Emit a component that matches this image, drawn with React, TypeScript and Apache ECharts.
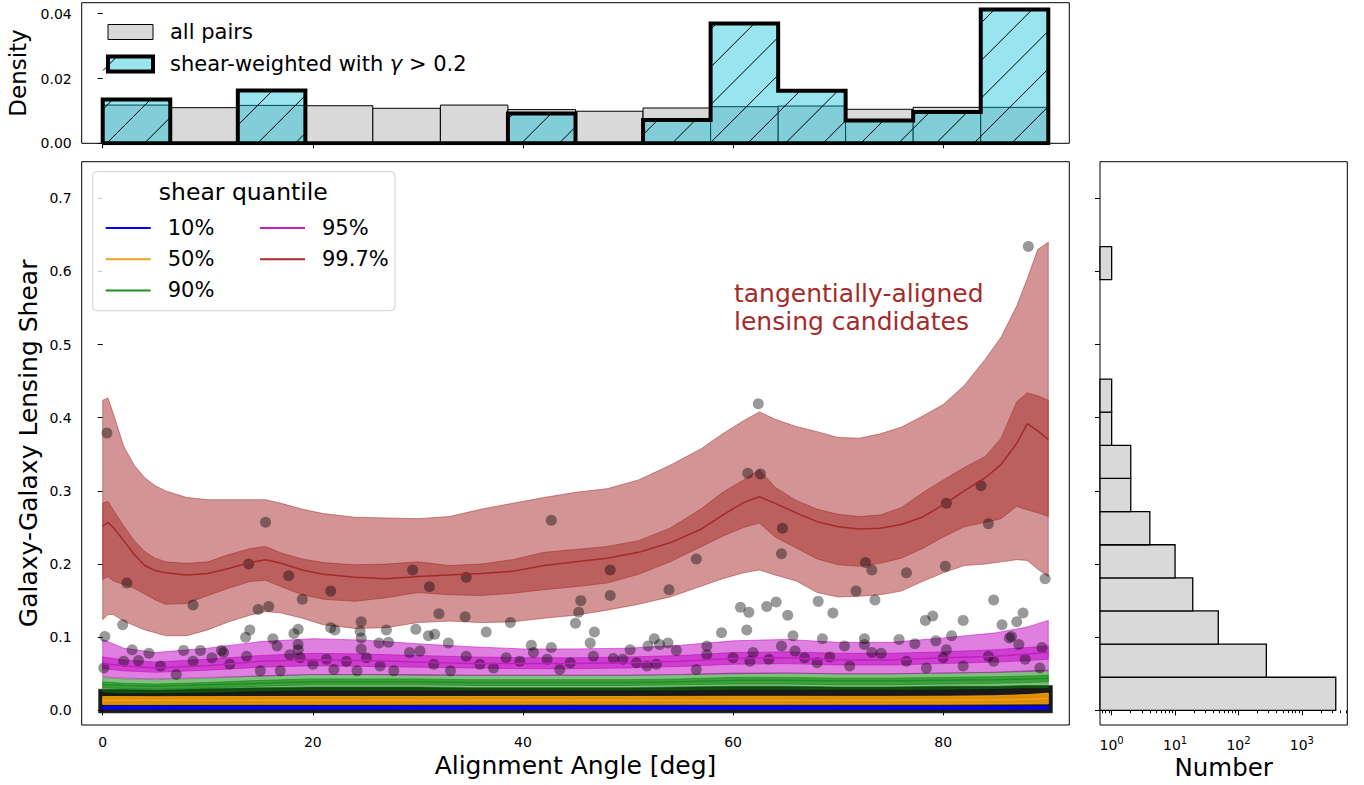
import React, { useEffect, useRef } from "react";
import * as echarts from "echarts";

const FONT = "DejaVu Sans";

// ---------------- Top histogram (alignment angle) ----------------
const ANGLE_BIN_EDGES = [0, 6.43, 12.86, 19.29, 25.71, 32.14, 38.57, 45.0, 51.43, 57.86, 64.29, 70.71, 77.14, 83.57, 90.0];
const ALL_PAIRS_DENSITY = [0.0118, 0.011, 0.0117, 0.0116, 0.0108, 0.0118, 0.0104, 0.0099, 0.0109, 0.0113, 0.0115, 0.0105, 0.0111, 0.0111];
const SHEAR_WEIGHTED_DENSITY = [0.0135, 0, 0.0163, 0, 0, 0, 0.0092, 0, 0.0072, 0.037, 0.0162, 0.007, 0.0097, 0.0413];
const DENSITY_TICKS = [0, 0.02, 0.04];
const SW_NAME = "shear-weighted with γ > 0.2";

// ---------------- Right histogram (shear counts) ----------------
const SHEAR_BIN_EDGES = [0, 0.0453, 0.0906, 0.1359, 0.1811, 0.2264, 0.2717, 0.317, 0.3623, 0.4076, 0.4529, 0.4981, 0.5434, 0.5887, 0.634];
const SHEAR_BIN_COUNTS = [3420, 275, 48, 19, 10, 4, 2, 2, 1, 1, 0, 0, 0, 1];
const NUMBER_TICKS = [1, 10, 100, 1000];
const NUMBER_MINOR_TICKS = [0.7, 0.8, 0.9, 2, 3, 4, 5, 6, 7, 8, 9, 20, 30, 40, 50, 60, 70, 80, 90, 200, 300, 400, 500, 600, 700, 800, 900, 2000, 3000, 4000, 5000];
const NUMBER_MIN = 0.655;
const NUMBER_MAX = 5200;

// ---------------- Main panel ----------------
const X_TICKS = [0, 20, 40, 60, 80];
const Y_TICKS = [0, 0.1, 0.2, 0.3, 0.4, 0.5, 0.6, 0.7];

// 99.7% quantile (fine grid)
const X_FINE = [0, 0.5, 1, 2, 3, 4, 5, 6, 8, 10, 12, 14, 15.5, 17, 19, 21, 24, 27, 30, 33, 36, 39, 42, 45, 48, 51, 54, 57, 59, 61, 62.5, 64, 66, 68, 70, 72, 74, 76, 78, 80, 82, 84, 85.5, 87, 88, 89, 90];
const RED_OUTER_HI = [0.424, 0.427, 0.406, 0.361, 0.335, 0.318, 0.307, 0.3, 0.291, 0.288, 0.288, 0.288, 0.288, 0.283, 0.275, 0.269, 0.264, 0.263, 0.262, 0.265, 0.275, 0.283, 0.291, 0.298, 0.303, 0.315, 0.335, 0.358, 0.378, 0.396, 0.408, 0.398, 0.388, 0.381, 0.373, 0.372, 0.378, 0.387, 0.402, 0.418, 0.444, 0.48, 0.51, 0.553, 0.59, 0.63, 0.64];
const RED_INNER_HI = [0.283, 0.286, 0.274, 0.252, 0.232, 0.217, 0.208, 0.203, 0.201, 0.203, 0.213, 0.221, 0.224, 0.215, 0.207, 0.202, 0.199, 0.2, 0.203, 0.198, 0.2, 0.206, 0.216, 0.22, 0.224, 0.232, 0.249, 0.276, 0.298, 0.315, 0.329, 0.305, 0.287, 0.275, 0.268, 0.265, 0.267, 0.277, 0.297, 0.315, 0.332, 0.347, 0.372, 0.422, 0.434, 0.43, 0.424];
const RED_MED = [0.252, 0.257, 0.25, 0.232, 0.213, 0.198, 0.191, 0.188, 0.185, 0.187, 0.194, 0.202, 0.206, 0.201, 0.192, 0.186, 0.182, 0.18, 0.183, 0.185, 0.187, 0.19, 0.198, 0.203, 0.208, 0.216, 0.229, 0.248, 0.267, 0.284, 0.292, 0.283, 0.27, 0.258, 0.251, 0.248, 0.249, 0.254, 0.264, 0.281, 0.3, 0.318, 0.336, 0.365, 0.392, 0.382, 0.37];
const RED_INNER_LO = [0.179, 0.183, 0.177, 0.172, 0.167, 0.159, 0.151, 0.145, 0.146, 0.157, 0.167, 0.176, 0.178, 0.169, 0.158, 0.152, 0.149, 0.154, 0.161, 0.158, 0.157, 0.16, 0.165, 0.169, 0.174, 0.186, 0.203, 0.224, 0.238, 0.25, 0.256, 0.237, 0.222, 0.207, 0.199, 0.197, 0.201, 0.208, 0.221, 0.237, 0.251, 0.257, 0.262, 0.279, 0.274, 0.27, 0.265];
const RED_OUTER_LO = [0.124, 0.131, 0.131, 0.122, 0.116, 0.11, 0.106, 0.102, 0.102, 0.11, 0.121, 0.13, 0.135, 0.133, 0.126, 0.117, 0.112, 0.113, 0.12, 0.122, 0.12, 0.121, 0.126, 0.13, 0.137, 0.145, 0.155, 0.17, 0.18, 0.188, 0.192, 0.185, 0.177, 0.161, 0.155, 0.156, 0.158, 0.163, 0.176, 0.188, 0.198, 0.2, 0.203, 0.206, 0.205, 0.193, 0.183];

// lower quantiles (coarse grid)
const X_COARSE = [0, 2, 5, 10, 15, 20, 25, 30, 35, 40, 45, 50, 55, 60, 65, 70, 75, 80, 85, 88, 90];
const MAG_OUTER_HI = [0.097, 0.085, 0.079, 0.085, 0.094, 0.098, 0.096, 0.091, 0.087, 0.084, 0.084, 0.085, 0.089, 0.095, 0.097, 0.093, 0.093, 0.099, 0.106, 0.114, 0.123];
const MAG_INNER_HI = [0.073, 0.069, 0.066, 0.07, 0.075, 0.078, 0.077, 0.075, 0.073, 0.072, 0.072, 0.073, 0.075, 0.079, 0.08, 0.078, 0.078, 0.08, 0.083, 0.086, 0.088];
const MAG_MED = [0.064, 0.061, 0.058, 0.061, 0.067, 0.069, 0.068, 0.066, 0.064, 0.064, 0.064, 0.065, 0.067, 0.071, 0.072, 0.069, 0.069, 0.072, 0.074, 0.077, 0.079];
const MAG_INNER_LO = [0.057, 0.054, 0.052, 0.055, 0.059, 0.061, 0.06, 0.059, 0.058, 0.057, 0.057, 0.058, 0.06, 0.063, 0.064, 0.062, 0.062, 0.064, 0.066, 0.068, 0.07];
const MAG_OUTER_LO = [0.046, 0.044, 0.043, 0.045, 0.047, 0.049, 0.049, 0.048, 0.048, 0.048, 0.048, 0.048, 0.049, 0.05, 0.051, 0.05, 0.05, 0.051, 0.052, 0.053, 0.054];

const GRN_OUTER_HI = [0.045, 0.043, 0.042, 0.044, 0.047, 0.049, 0.049, 0.049, 0.048, 0.048, 0.048, 0.048, 0.049, 0.051, 0.051, 0.05, 0.05, 0.051, 0.052, 0.054, 0.055];
const GRN_INNER_HI = [0.039, 0.037, 0.036, 0.038, 0.041, 0.043, 0.043, 0.043, 0.042, 0.042, 0.042, 0.042, 0.043, 0.045, 0.045, 0.044, 0.044, 0.045, 0.046, 0.047, 0.048];
const GRN_MED = [0.035, 0.034, 0.033, 0.035, 0.037, 0.039, 0.039, 0.039, 0.038, 0.038, 0.038, 0.038, 0.039, 0.041, 0.041, 0.04, 0.04, 0.041, 0.042, 0.043, 0.044];
const GRN_INNER_LO = [0.031, 0.03, 0.029, 0.031, 0.033, 0.035, 0.035, 0.035, 0.034, 0.034, 0.034, 0.034, 0.035, 0.036, 0.036, 0.035, 0.035, 0.036, 0.037, 0.038, 0.039];
const GRN_OUTER_LO = [0.025, 0.024, 0.024, 0.025, 0.027, 0.028, 0.028, 0.028, 0.028, 0.028, 0.028, 0.028, 0.028, 0.029, 0.029, 0.029, 0.029, 0.029, 0.03, 0.031, 0.031];

const ORG_OUTER_HI = [0.0188, 0.0188, 0.0187, 0.0188, 0.0189, 0.019, 0.019, 0.019, 0.019, 0.019, 0.019, 0.019, 0.0191, 0.0192, 0.0192, 0.0191, 0.0191, 0.0193, 0.02, 0.0215, 0.0235];
const ORG_MED = [0.0137, 0.0137, 0.0137, 0.0138, 0.0138, 0.0139, 0.0139, 0.0139, 0.0139, 0.0139, 0.0139, 0.0139, 0.014, 0.014, 0.014, 0.014, 0.014, 0.0141, 0.0145, 0.0152, 0.0162];
const ORG_OUTER_LO = [0.0082, 0.0082, 0.0082, 0.0083, 0.0083, 0.0083, 0.0083, 0.0084, 0.0084, 0.0084, 0.0084, 0.0084, 0.0084, 0.0084, 0.0084, 0.0084, 0.0084, 0.0085, 0.0086, 0.0088, 0.009];

const BLU_OUTER_HI = [0.0057, 0.0057, 0.0057, 0.0057, 0.0057, 0.0057, 0.0057, 0.0057, 0.0057, 0.0057, 0.0057, 0.0057, 0.0057, 0.0057, 0.0057, 0.0057, 0.0057, 0.0057, 0.0058, 0.0058, 0.0059];
const BLU_MED = [0.0037, 0.0037, 0.0037, 0.0037, 0.0037, 0.0037, 0.0037, 0.0037, 0.0037, 0.0037, 0.0037, 0.0037, 0.0037, 0.0037, 0.0037, 0.0037, 0.0037, 0.0037, 0.0038, 0.0038, 0.0038];
const BLU_OUTER_LO = [0.0017, 0.0017, 0.0017, 0.0017, 0.0017, 0.0017, 0.0017, 0.0017, 0.0017, 0.0017, 0.0017, 0.0017, 0.0017, 0.0017, 0.0017, 0.0017, 0.0017, 0.0017, 0.0017, 0.0017, 0.0017];

// dense core of the scatter (thousands of overlapping points near zero)
const DENSE_X = [-0.4, 2, 5, 10, 15, 20, 25, 30, 35, 40, 45, 50, 55, 60, 65, 70, 75, 80, 85, 88, 90.4];
const DENSE_HI = [0.029, 0.029, 0.028, 0.03, 0.031, 0.032, 0.032, 0.032, 0.031, 0.031, 0.031, 0.031, 0.032, 0.033, 0.033, 0.032, 0.032, 0.033, 0.033, 0.034, 0.034];
const DENSE_LO = [-0.0035, -0.0035, -0.0035, -0.0035, -0.0035, -0.0035, -0.0035, -0.0035, -0.0035, -0.0035, -0.0035, -0.0035, -0.0035, -0.0035, -0.0035, -0.0035, -0.0035, -0.0035, -0.0035, -0.0035, -0.0035];

// individual pairs above the dense core
const PAIRS = [
  [0.4, 0.379], [62.4, 0.419], [88.1, 0.634], [42.7, 0.26], [15.5, 0.257],
  [83.6, 0.307], [80.3, 0.283], [61.4, 0.324], [62.6, 0.323], [64.7, 0.249], [64.6, 0.214], [56.5, 0.207],
  [48.3, 0.192], [48.3, 0.157], [45.5, 0.15], [45.3, 0.134], [45.0, 0.119], [46.8, 0.107], [53.9, 0.165],
  [72.6, 0.202], [73.2, 0.192], [76.5, 0.188], [80.2, 0.197], [84.3, 0.255], [89.7, 0.18], [71.7, 0.163],
  [73.5, 0.151], [68.1, 0.149], [69.5, 0.133], [60.7, 0.141], [61.5, 0.134], [63.2, 0.142], [64.1, 0.148],
  [65.2, 0.13], [84.8, 0.151], [78.3, 0.123], [79.0, 0.129], [81.9, 0.123], [85.6, 0.117], [87.0, 0.121],
  [87.6, 0.133], [58.9, 0.106], [61.3, 0.11], [80.8, 0.102],
  [13.9, 0.2], [2.3, 0.174], [17.7, 0.184], [21.7, 0.163], [29.5, 0.192], [31.1, 0.169], [34.6, 0.182],
  [8.6, 0.144], [14.8, 0.138], [15.8, 0.142], [19.0, 0.152], [24.6, 0.121], [32.0, 0.132], [34.5, 0.128], [38.8, 0.12],
  [1.9, 0.117], [0.2, 0.101], [14.0, 0.11], [13.6, 0.1], [18.6, 0.111], [18.2, 0.105], [21.7, 0.113], [22.1, 0.11],
  [24.5, 0.108], [24.6, 0.099], [27.0, 0.11], [29.8, 0.111], [31.0, 0.102], [31.6, 0.104], [36.5, 0.107],
  [32.9, 0.092], [40.8, 0.089], [42.7, 0.086],
  [2.8, 0.083], [4.4, 0.078], [7.7, 0.082], [9.3, 0.082], [11.3, 0.082], [16.2, 0.098], [18.6, 0.09], [18.6, 0.083],
  [24.6, 0.084], [26.3, 0.092], [27.2, 0.093],
  [2.0, 0.067], [3.4, 0.068], [5.5, 0.0605], [7.0, 0.049], [8.6, 0.067], [10.4, 0.072], [11.5, 0.079], [12.1, 0.063],
  [13.7, 0.074], [15.0, 0.054], [16.6, 0.088], [16.9, 0.054], [17.8, 0.076], [18.8, 0.072], [20.0, 0.063], [21.3, 0.07],
  [22.0, 0.056], [23.2, 0.067], [24.2, 0.054], [25.1, 0.072], [26.4, 0.0605], [27.7, 0.054], [29.2, 0.079], [30.2, 0.081],
  [31.5, 0.063], [33.1, 0.054], [34.6, 0.074], [35.9, 0.063], [37.2, 0.058], [38.4, 0.072], [39.7, 0.067], [41.0, 0.079],
  [42.3, 0.07], [43.5, 0.056], [44.5, 0.065],
  [65.7, 0.102], [68.5, 0.098], [75.8, 0.097], [77.3, 0.091], [79.3, 0.095], [72.5, 0.098], [70.6, 0.088], [46.4, 0.092],
  [52.5, 0.098], [51.9, 0.088], [53.0, 0.09], [53.8, 0.092], [57.5, 0.088], [86.5, 0.101],
  [50.2, 0.083], [54.6, 0.082], [57.5, 0.076], [61.9, 0.079], [64.6, 0.088], [65.9, 0.081], [72.5, 0.09], [73.2, 0.079],
  [74.1, 0.078], [80.3, 0.083], [84.3, 0.074], [86.3, 0.099], [87.2, 0.09], [89.4, 0.086],
  [46.7, 0.074], [48.6, 0.071], [49.5, 0.07], [50.8, 0.065], [51.8, 0.0605], [52.7, 0.063], [56.5, 0.056], [60.0, 0.072],
  [61.6, 0.067], [63.4, 0.07], [66.8, 0.072], [68.0, 0.065], [69.2, 0.073], [71.1, 0.0605], [76.5, 0.067], [78.4, 0.058],
  [80.0, 0.072], [81.9, 0.0605], [84.8, 0.067], [87.8, 0.07], [89.2, 0.058], [0.1, 0.058],
];

// ---------------- layout ----------------
const GRID_TOP = { left: 81.7, top: 2.7, width: 987.6, height: 140.6 };
const GRID_MAIN = { left: 81.7, top: 161.7, width: 987.6, height: 563.3 };
const GRID_SIDE = { left: 1100, top: 161.7, width: 247.3, height: 563.3 };
const HATCH_SPACING = 37.7;
const HATCH_PHASE = 250;

function hatchLines(x0: number, x1: number, yTop: number, yBot: number) {
  const out: any[] = [];
  const kStart = Math.ceil((x0 + yTop - HATCH_PHASE) / HATCH_SPACING);
  const kEnd = Math.floor((x1 + yBot - HATCH_PHASE) / HATCH_SPACING);
  for (let k = kStart; k <= kEnd; k++) {
    const c = HATCH_PHASE + k * HATCH_SPACING;
    const xa = Math.max(x0, c - yBot);
    const xb = Math.min(x1, c - yTop);
    if (xb > xa) {
      out.push({ type: "line", shape: { x1: xa, y1: c - xa, x2: xb, y2: c - xb }, style: { stroke: "#000", lineWidth: 1 } });
    }
  }
  return out;
}

function band(xs: number[], lo: number[], hi: number[], color: string, stroke?: string) {
  return {
    type: "custom",
    xAxisIndex: 1,
    yAxisIndex: 1,
    silent: true,
    data: xs.map((x, i) => [x, lo[i], hi[i]]),
    encode: { x: 0, y: [1, 2] },
    renderItem: (params: any, api: any) => {
      if (params.dataIndex !== 0) return null;
      const top = xs.map((x, i) => api.coord([x, hi[i]]));
      const bottom = xs.map((x, i) => api.coord([x, lo[i]])).reverse();
      return {
        type: "polygon",
        shape: { points: top.concat(bottom) },
        style: { fill: color, stroke: stroke || color, lineWidth: 1 },
      };
    },
  };
}

function medLine(name: string, xs: number[], ys: number[], color: string, width = 1.5) {
  return {
    type: "line",
    name,
    xAxisIndex: 1,
    yAxisIndex: 1,
    silent: true,
    data: xs.map((x, i) => [x, ys[i]]),
    showSymbol: false,
    symbol: "none",
    color,
    itemStyle: { color },
    lineStyle: { color, width },
    emphasis: { disabled: true },
  };
}

function tickStyle(values: number[], length = 5) {
  return { show: true, customValues: values, length, lineStyle: { color: "#000", width: 1 } };
}

function buildOption() {
  const stepPts: number[][] = [[ANGLE_BIN_EDGES[0], 0]];
  SHEAR_WEIGHTED_DENSITY.forEach((v, i) => {
    stepPts.push([ANGLE_BIN_EDGES[i], v], [ANGLE_BIN_EDGES[i + 1], v]);
  });
  stepPts.push([ANGLE_BIN_EDGES[ANGLE_BIN_EDGES.length - 1], 0], [ANGLE_BIN_EDGES[0], 0]);

  const legendText = {
    fontFamily: FONT,
    fontSize: 21,
    color: "#000",
    lineHeight: 22,
    rich: {
      s: { width: 12, fontSize: 21, lineHeight: 22 },
      g: { fontStyle: "italic", fontFamily: FONT, fontSize: 21, lineHeight: 22, color: "#000" },
    },
  };
  const legendFormatter = (name: string) =>
    name === SW_NAME ? "{s| }shear-weighted with {g|γ} > 0.2" : "{s| }" + name;

  const baseLabel = { color: "#000", fontFamily: FONT, fontSize: 14 };

  return {
    animation: false,
    backgroundColor: "#fff",
    textStyle: { fontFamily: FONT },
    grid: [
      { ...GRID_TOP, show: true, borderColor: "#000", borderWidth: 1, backgroundColor: "transparent", containLabel: false, outerBoundsMode: "none" },
      { ...GRID_MAIN, show: true, borderColor: "#000", borderWidth: 1, backgroundColor: "transparent", containLabel: false, outerBoundsMode: "none" },
      { ...GRID_SIDE, show: true, borderColor: "#000", borderWidth: 1, backgroundColor: "transparent", containLabel: false, outerBoundsMode: "none" },
      { ...GRID_SIDE, show: false, containLabel: false, outerBoundsMode: "none" },
    ],
    xAxis: [
      {
        gridIndex: 0, type: "value", min: -2, max: 92,
        axisLine: { show: false }, splitLine: { show: false },
        axisTick: tickStyle(X_TICKS), axisLabel: { show: false },
      },
      {
        gridIndex: 1, type: "value", min: -2, max: 92,
        axisLine: { show: false }, splitLine: { show: false },
        axisTick: tickStyle(X_TICKS),
        axisLabel: { ...baseLabel, customValues: X_TICKS, margin: 10, formatter: (v: number) => String(v) },
        name: "Alignment Angle [deg]", nameLocation: "middle", nameGap: 28, nameMoveOverlap: false,
        nameTextStyle: { fontFamily: FONT, fontSize: 25, color: "#000" },
      },
      {
        gridIndex: 2, type: "log", logBase: 10, min: NUMBER_MIN, max: NUMBER_MAX,
        axisLine: { show: false }, splitLine: { show: false },
        axisTick: tickStyle(NUMBER_TICKS),
        axisLabel: {
          ...baseLabel, customValues: NUMBER_TICKS, margin: 10, lineHeight: 20,
          formatter: (v: number) => "10{sup|" + Math.round(Math.log10(v)) + "}",
          rich: { sup: { fontSize: 10, lineHeight: 10, verticalAlign: "top", color: "#000", fontFamily: FONT } },
        },
        name: "Number", nameLocation: "middle", nameGap: 30, nameMoveOverlap: false,
        nameTextStyle: { fontFamily: FONT, fontSize: 24.5, color: "#000" },
      },
      {
        gridIndex: 3, type: "log", logBase: 10, min: NUMBER_MIN, max: NUMBER_MAX,
        axisLine: { show: false }, splitLine: { show: false },
        axisTick: tickStyle(NUMBER_MINOR_TICKS, 2.8), axisLabel: { show: false },
      },
    ],
    yAxis: [
      {
        gridIndex: 0, type: "value", min: 0, max: 0.0434,
        axisLine: { show: false }, splitLine: { show: false },
        axisTick: tickStyle(DENSITY_TICKS),
        axisLabel: { ...baseLabel, customValues: DENSITY_TICKS, margin: 10, formatter: (v: number) => v.toFixed(2) },
        name: "Density", nameLocation: "middle", nameGap: 52, nameMoveOverlap: false,
        nameTextStyle: { fontFamily: FONT, fontSize: 23, color: "#000" },
      },
      {
        gridIndex: 1, type: "value", min: -0.02, max: 0.75,
        axisLine: { show: false }, splitLine: { show: false },
        axisTick: tickStyle(Y_TICKS),
        axisLabel: { ...baseLabel, customValues: Y_TICKS, margin: 10, formatter: (v: number) => v.toFixed(1) },
        name: "Galaxy-Galaxy Lensing Shear", nameLocation: "middle", nameGap: 41, nameMoveOverlap: false,
        nameTextStyle: { fontFamily: FONT, fontSize: 25, color: "#000" },
      },
      {
        gridIndex: 2, type: "value", min: -0.02, max: 0.75,
        axisLine: { show: false }, splitLine: { show: false },
        axisTick: tickStyle(Y_TICKS), axisLabel: { show: false },
      },
      { gridIndex: 3, type: "value", min: -0.02, max: 0.75, show: false },
    ],
    legend: [
      {
        data: [
          { name: "all pairs", itemStyle: { color: "#d9d9d9", borderColor: "#000", borderWidth: 1 } },
          { name: SW_NAME, itemStyle: { color: "rgba(0,190,215,0.4)", borderColor: "#000", borderWidth: 4 } },
        ],
        left: 101, top: 16, orient: "vertical", icon: "rect",
        itemWidth: 45, itemHeight: 15, itemGap: 10, selectedMode: false,
        textStyle: legendText, formatter: legendFormatter,
      },
      {
        data: ["10%", "50%", "90%"],
        left: 100.7, top: 212, orient: "vertical", icon: "rect",
        itemWidth: 45, itemHeight: 2, itemGap: 9.2, selectedMode: false,
        textStyle: legendText, formatter: legendFormatter,
      },
      {
        data: ["95%", "99.7%"],
        left: 255, top: 212, orient: "vertical", icon: "rect",
        itemWidth: 45, itemHeight: 2, itemGap: 9.2, selectedMode: false,
        textStyle: legendText, formatter: legendFormatter,
      },
    ],
    graphic: [
      {
        type: "line", z: 6,
        shape: { x1: 103, y1: 70.5, x2: 116, y2: 57.5 },
        style: { stroke: "#000", lineWidth: 1 },
      },
      {
        type: "rect", z: 3,
        shape: { x: 92.7, y: 171.7, width: 302.3, height: 139, r: 4 },
        style: { fill: "rgba(255,255,255,0.8)", stroke: "#d0d0d0", lineWidth: 1 },
      },
      {
        type: "text", z: 4, x: 243.3, y: 191.7,
        style: { text: "shear quantile", fill: "#000", fontSize: 23.5, fontFamily: FONT, align: "center", verticalAlign: "middle" },
      },
      {
        type: "text", z: 4, left: 734, top: 279,
        style: { text: "tangentially-aligned\nlensing candidates", fill: "#a52a2a", fontSize: 25, fontFamily: FONT, lineHeight: 28.5 },
      },
    ],
    series: [
      // top histogram
      {
        type: "custom", name: "all pairs", xAxisIndex: 0, yAxisIndex: 0, silent: true,
        itemStyle: { color: "#d9d9d9", borderColor: "#000", borderWidth: 1 },
        data: ALL_PAIRS_DENSITY.map((v, i) => [ANGLE_BIN_EDGES[i], ANGLE_BIN_EDGES[i + 1], v]),
        encode: { x: [0, 1], y: 2 },
        renderItem: (params: any, api: any) => {
          const a = api.coord([api.value(0), 0]);
          const b = api.coord([api.value(1), api.value(2)]);
          return {
            type: "rect",
            shape: { x: a[0], y: b[1], width: b[0] - a[0], height: a[1] - b[1] },
            style: { fill: "#d9d9d9", stroke: "#000", lineWidth: 1 },
          };
        },
      },
      {
        type: "custom", name: SW_NAME, xAxisIndex: 0, yAxisIndex: 0, silent: true,
        itemStyle: { color: "rgba(0,190,215,0.4)", borderColor: "#000", borderWidth: 4 },
        data: SHEAR_WEIGHTED_DENSITY.map((v, i) => [ANGLE_BIN_EDGES[i], ANGLE_BIN_EDGES[i + 1], v]),
        encode: { x: [0, 1], y: 2 },
        renderItem: (params: any, api: any) => {
          if (!(api.value(2) > 0)) return null;
          const a = api.coord([api.value(0), 0]);
          const b = api.coord([api.value(1), api.value(2)]);
          return {
            type: "group",
            children: [
              {
                type: "rect",
                shape: { x: a[0], y: b[1], width: b[0] - a[0], height: a[1] - b[1] },
                style: { fill: "rgba(0,190,215,0.4)" },
              },
              ...hatchLines(a[0], b[0], b[1], a[1]),
            ],
          };
        },
      },
      {
        type: "line", xAxisIndex: 0, yAxisIndex: 0, silent: true, data: stepPts,
        showSymbol: false, symbol: "none", clip: true,
        lineStyle: { color: "#000", width: 4, join: "miter" },
        emphasis: { disabled: true },
      },
      // right histogram
      {
        type: "custom", xAxisIndex: 2, yAxisIndex: 2, silent: true,
        data: SHEAR_BIN_COUNTS.map((c, i) => [c, SHEAR_BIN_EDGES[i], SHEAR_BIN_EDGES[i + 1]]).filter((d) => d[0] > 0),
        encode: { x: 0, y: [1, 2] },
        renderItem: (params: any, api: any) => {
          const a = api.coord([NUMBER_MIN, api.value(1)]);
          const b = api.coord([api.value(0), api.value(2)]);
          return {
            type: "rect",
            shape: { x: a[0], y: b[1], width: b[0] - a[0], height: a[1] - b[1] },
            style: { fill: "#d9d9d9", stroke: "#000", lineWidth: 1.3 },
          };
        },
      },
      // main panel
      band(DENSE_X, DENSE_LO, DENSE_HI, "rgba(8,8,8,0.93)", "rgba(60,60,60,0.6)"),
      {
        type: "scatter", xAxisIndex: 1, yAxisIndex: 1, silent: true, data: PAIRS,
        symbolSize: 11, itemStyle: { color: "rgba(0,0,0,0.5)" },
        emphasis: { disabled: true },
      },
      band(X_COARSE, BLU_OUTER_LO, BLU_OUTER_HI, "rgba(0,0,255,0.9)"),
      medLine("10%", X_COARSE, BLU_MED, "#0000ff"),
      band(X_COARSE, ORG_OUTER_LO, ORG_OUTER_HI, "rgba(255,165,0,0.85)"),
      medLine("50%", X_COARSE, ORG_MED, "#f0a020"),
      band(X_COARSE, GRN_OUTER_LO, GRN_OUTER_HI, "rgba(0,128,0,0.5)"),
      band(X_COARSE, GRN_INNER_LO, GRN_INNER_HI, "rgba(0,128,0,0.5)"),
      medLine("90%", X_COARSE, GRN_MED, "#1f8f1f"),
      band(X_COARSE, MAG_OUTER_LO, MAG_OUTER_HI, "rgba(191,0,191,0.5)"),
      band(X_COARSE, MAG_INNER_LO, MAG_INNER_HI, "rgba(191,0,191,0.5)"),
      medLine("95%", X_COARSE, MAG_MED, "#c020c0"),
      band(X_FINE, RED_OUTER_LO, RED_OUTER_HI, "rgba(165,42,42,0.5)"),
      band(X_FINE, RED_INNER_LO, RED_INNER_HI, "rgba(165,42,42,0.5)"),
      medLine("99.7%", X_FINE, RED_MED, "#a52a2a"),
    ],
  };
}

export default function App() {
  const ref = useRef<HTMLDivElement>(null);
  useEffect(() => {
    if (!ref.current) return;
    const chart = echarts.init(ref.current, null, { renderer: "svg" });
    chart.setOption(buildOption() as any);
    return () => chart.dispose();
  }, []);
  return (
    <div
      ref={ref}
      style={{ position: "fixed", left: 0, top: 0, width: 1364, height: 785, background: "#fff" }}
    />
  );
}
